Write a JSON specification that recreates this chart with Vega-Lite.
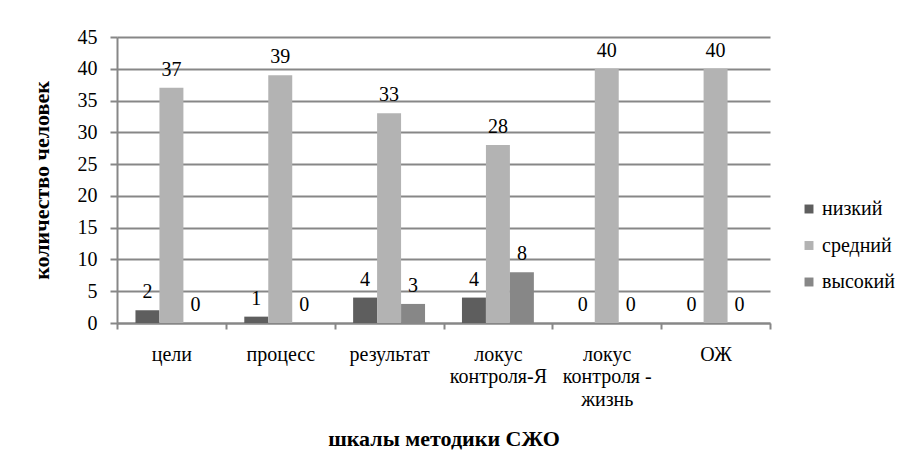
{
  "$schema": "https://vega.github.io/schema/vega-lite/v6.json",
  "width": 653,
  "height": 286,
  "autosize": {"type": "none"},
  "padding": {"left": 117, "top": 37, "right": 136, "bottom": 146},
  "background": "white",
  "config": {
    "view": {"stroke": null},
    "font": "Liberation Serif",
    "axis": {"labelFont": "Liberation Serif", "titleFont": "Liberation Serif", "labelColor": "black", "titleColor": "black"},
    "legend": {"labelFont": "Liberation Serif"},
    "text": {"font": "Liberation Serif"}
  },
  "data": {
    "values": [
      {"шкала": "цели", "уровень": "низкий", "n": 2},
      {"шкала": "цели", "уровень": "средний", "n": 37},
      {"шкала": "цели", "уровень": "высокий", "n": 0},
      {"шкала": "процесс", "уровень": "низкий", "n": 1},
      {"шкала": "процесс", "уровень": "средний", "n": 39},
      {"шкала": "процесс", "уровень": "высокий", "n": 0},
      {"шкала": "результат", "уровень": "низкий", "n": 4},
      {"шкала": "результат", "уровень": "средний", "n": 33},
      {"шкала": "результат", "уровень": "высокий", "n": 3},
      {"шкала": "локус контроля-Я", "уровень": "низкий", "n": 4},
      {"шкала": "локус контроля-Я", "уровень": "средний", "n": 28},
      {"шкала": "локус контроля-Я", "уровень": "высокий", "n": 8},
      {"шкала": "локус контроля - жизнь", "уровень": "низкий", "n": 0},
      {"шкала": "локус контроля - жизнь", "уровень": "средний", "n": 40},
      {"шкала": "локус контроля - жизнь", "уровень": "высокий", "n": 0},
      {"шкала": "ОЖ", "уровень": "низкий", "n": 0},
      {"шкала": "ОЖ", "уровень": "средний", "n": 40},
      {"шкала": "ОЖ", "уровень": "высокий", "n": 0}
    ]
  },
  "encoding": {
    "x": {
      "field": "шкала",
      "type": "nominal",
      "sort": null,
      "scale": {"paddingInner": 0, "paddingOuter": 0},
      "axis": {
        "title": "шкалы методики СЖО",
        "titleFontSize": 22,
        "titleFontWeight": "bold",
        "titlePadding": 19,
        "labelAngle": 0,
        "labelFontSize": 20,
        "labelPadding": 15,
        "labelLineHeight": 22.5,
        "labelExpr": "datum.value == 'локус контроля-Я' ? ['локус', 'контроля-Я'] : datum.value == 'локус контроля - жизнь' ? ['локус', 'контроля -', 'жизнь'] : datum.value",
        "tickBand": "extent",
        "tickSize": 6,
        "tickColor": "#878787",
        "tickWidth": 2,
        "domainColor": "#878787",
        "domainWidth": 2,
        "grid": false
      }
    },
    "xOffset": {
      "field": "уровень",
      "type": "nominal",
      "scale": {"domain": ["низкий", "средний", "высокий"], "paddingInner": 0, "paddingOuter": 0.77}
    },
    "y": {
      "field": "n",
      "type": "quantitative",
      "scale": {"domain": [0, 45], "nice": false},
      "axis": {
        "title": "количество человек",
        "titleFontSize": 22,
        "titleFontWeight": "bold",
        "titlePadding": 24,
        "values": [0, 5, 10, 15, 20, 25, 30, 35, 40, 45],
        "labelFontSize": 20,
        "labelPadding": 13,
        "tickSize": 7,
        "tickColor": "#878787",
        "tickWidth": 2,
        "domainColor": "#878787",
        "domainWidth": 2,
        "gridColor": "#878787",
        "gridWidth": 2
      }
    }
  },
  "layer": [
    {
      "mark": {"type": "bar"},
      "encoding": {
        "color": {
          "field": "уровень",
          "type": "nominal",
          "scale": {"domain": ["низкий", "средний", "высокий"], "range": ["#5e5e5e", "#b3b3b3", "#878787"]},
          "legend": {
            "title": null,
            "orient": "none",
            "legendX": 682,
            "legendY": 162,
            "symbolType": "square",
            "symbolSize": 80,
            "symbolStrokeWidth": 0,
            "labelFontSize": 20,
            "labelColor": "black",
            "labelOffset": 3,
            "rowPadding": 16.5,
            "padding": 0
          }
        }
      }
    },
    {
      "mark": {"type": "text", "fontSize": 20, "baseline": "alphabetic", "dy": -12, "color": "black"},
      "encoding": {"text": {"field": "n", "type": "quantitative"}}
    }
  ]
}
